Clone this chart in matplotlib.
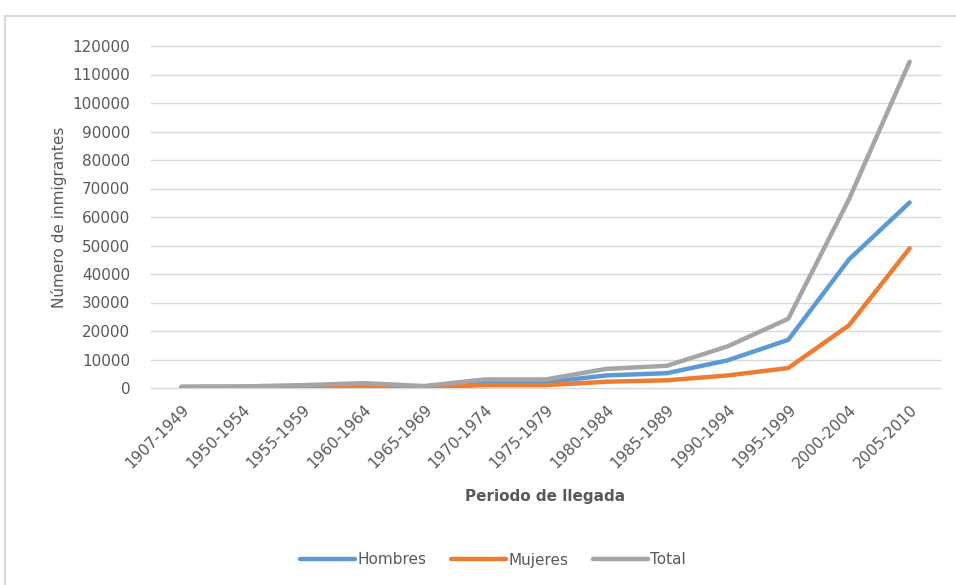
import matplotlib
matplotlib.use("Agg")
import matplotlib.pyplot as plt
from matplotlib.patches import Rectangle

plt.rcParams['font.family'] = ['DejaVu Sans']

periods = ["1907-1949", "1950-1954", "1955-1959", "1960-1964", "1965-1969",
           "1970-1974", "1975-1979", "1980-1984", "1985-1989", "1990-1994",
           "1995-1999", "2000-2004", "2005-2010"]
hombres = [300, 400, 700, 1100, 500, 2000, 2000, 4400, 5200, 9700, 16900, 45100, 65100]
mujeres = [100, 150, 300, 600, 200, 1000, 1000, 2200, 2700, 4400, 7000, 22000, 49000]
total = [500, 550, 1000, 1700, 700, 3000, 3000, 6700, 7800, 14600, 24300, 66200, 114500]
yticks = list(range(0, 120001, 10000))

c_h, c_m, c_t = "#5B9BD5", "#ED7D31", "#A5A5A5"
txt = "#595959"

fig = plt.figure(figsize=(9.56, 5.85), dpi=100)
ax = fig.add_axes([151/956, 1-388/585, (940-151)/956, (388-46)/585])

x = list(range(len(periods)))
ax.plot(x, hombres, color=c_h, lw=3.2, label="Hombres", solid_capstyle="round")
ax.plot(x, mujeres, color=c_m, lw=3.2, label="Mujeres", solid_capstyle="round")
ax.plot(x, total, color=c_t, lw=3.2, label="Total", solid_capstyle="round")

ax.set_xlim(-0.5, len(periods)-0.5)
ax.set_ylim(0, 120000)
ax.set_yticks(yticks)
ax.set_yticklabels([str(v) for v in yticks])
ax.set_xticks(x)
ax.set_xticklabels(periods, rotation=45, ha="right", rotation_mode="anchor")
ax.tick_params(axis="both", length=0, colors=txt, labelsize=11)
ax.tick_params(axis="y", pad=15)
ax.tick_params(axis="x", pad=10)
ax.grid(axis="y", color="#D9D9D9", lw=1)
for gl in ax.get_ygridlines():
    gl.set_clip_on(False)
ax.set_axisbelow(True)
for s in ax.spines.values():
    s.set_visible(False)

ax.set_ylabel("Número de inmigrantes", color=txt, fontsize=11, labelpad=4)
ax.set_xlabel("Periodo de llegada", color=txt, fontsize=11, fontweight="bold", labelpad=13)

fig.legend(loc="center", bbox_to_anchor=(493/956, 1-560/585), ncol=3, frameon=False,
           handlelength=3.6, handletextpad=0.15, columnspacing=1.6,
           prop={"size": 11}, labelcolor=txt)

fig.patches.append(Rectangle((5/956, -0.05), 1.1, 1-16/585+0.05, transform=fig.transFigure,
                             fill=False, edgecolor="#D9D9D9", lw=1.5))

fig.savefig("out.png", dpi=100)
